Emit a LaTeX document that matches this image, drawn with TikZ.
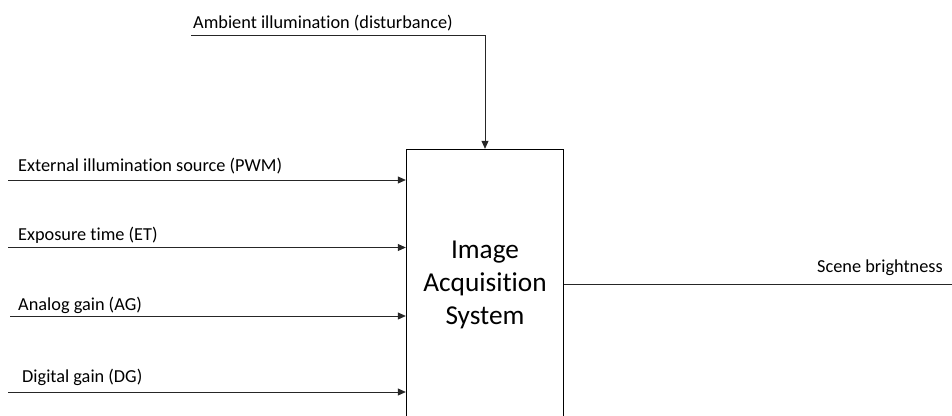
\documentclass[tikz,border=0pt]{standalone}
\usepackage{fontspec}
\setmainfont{Carlito}[Ligatures=NoCommon]
\usetikzlibrary{arrows.meta,calc}
\begin{document}
\begin{tikzpicture}[x=1pt,y=-1pt,
  conn/.style={draw=black!85, line width=0.8pt},
  arr/.style={conn, -{Triangle[length=8pt,width=7pt]}},
  lbl/.style={anchor=base west, inner sep=0pt, font=\fontsize{18.3}{22}\selectfont},
  sysbox/.style={draw=black, line width=1.4pt, minimum width=157pt, minimum height=270pt, align=center, inner sep=0pt, font=\fontsize{27.3}{33}\selectfont}]
\useasboundingbox (0,0) rectangle (952,415);
\clip (0,0) rectangle (952,415);
\node[sysbox] (ias) at (485,284.5) {Image\\Acquisition\\System};
% inputs
\coordinate (p1) at (8,180);
\coordinate (p2) at (8,247.5);
\coordinate (p3) at (10,316);
\coordinate (p4) at (8,392);
\draw[arr] (p1) -- (p1 -| ias.west);
\draw[arr] (p2) -- (p2 -| ias.west);
\draw[arr] (p3) -- (p3 -| ias.west);
\draw[arr] (p4) -- (p4 -| ias.west);
\node[lbl] (l1) at (18,171) {External illumination source (PWM)};
\node[lbl] (l2) at (18,240.5) {Exposure time (ET)};
\node[lbl] (l3) at (18,310) {Analog gain (AG)};
\node[lbl] (l4) at (22,382) {Digital gain (DG)};
% disturbance
\coordinate (a0) at (191,35);
\coordinate (a1) at (485,35);
\draw[arr] (a0) -- (a1) -- (a1 |- ias.north);
\node[lbl] (la) at (193,28) {Ambient illumination (disturbance)};
% output
\coordinate (o1) at (952,284.5);
\draw[conn] (ias.east) -- (o1);
\node[lbl] (lo) at (817,272.5) {Scene brightness};
\end{tikzpicture}
\end{document}
